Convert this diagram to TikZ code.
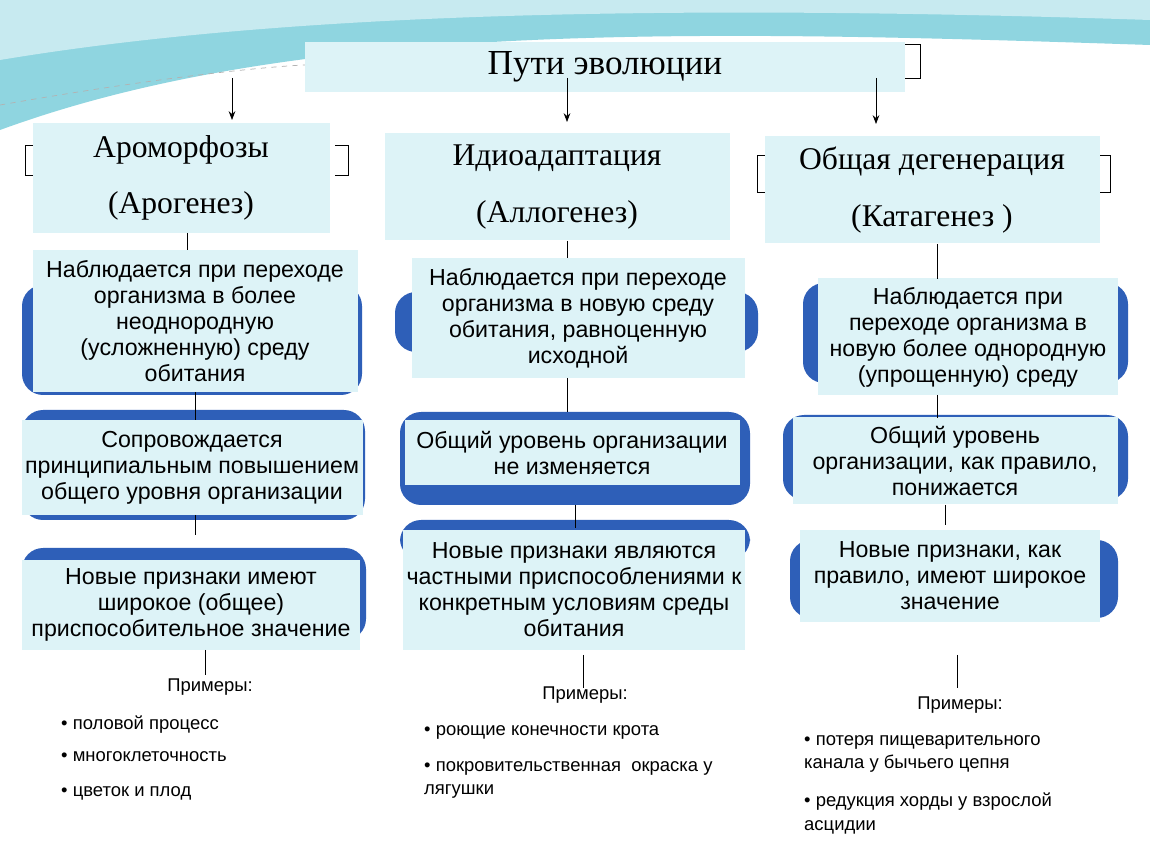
\documentclass[tikz,border=0pt]{standalone}
\usepackage{fontspec}
\setmainfont{Liberation Sans}
\newfontfamily\serifhead{Liberation Serif}
\usetikzlibrary{arrows.meta}
\definecolor{pale}{HTML}{DDF3F7}
\definecolor{band}{HTML}{2E5FB8}
\definecolor{sky}{HTML}{5FC3D3}
\tikzset{
 box/.style={fill=pale,inner sep=0pt,align=center,font=\fontsize{13.2}{14.8}\selectfont},
 head/.style={fill=pale,inner sep=0pt,align=center,font=\serifhead\fontsize{18}{32}\selectfont},
 wire/.style={black,thin},
 band/.style={fill=band,rounded corners=12pt},
 ex/.style={anchor=north west,align=left,font=\fontsize{10.5}{13.5}\selectfont}
}
\begin{document}
\begin{tikzpicture}[x=0.02cm,y=-0.02cm]
 \useasboundingbox (0,0) rectangle (1150,864);
 \fill[white] (0,0) rectangle (1150,864);
 % sky band at top
 \fill[sky!70] (0,0) -- (1150,0) -- (1150,45) .. controls (700,30) and (300,20) .. (0,130) -- cycle;
 \fill[sky!35] (0,0) -- (1150,0) -- (1150,20) .. controls (700,5) and (300,10) .. (0,60) -- cycle;
 \draw[gray!60,dashed] (0,105) .. controls (200,70) and (300,65) .. (305,65);

 % title
 \node[head,minimum width=600*0.02cm,minimum height=50*0.02cm,font=\serifhead\fontsize{20}{24}\selectfont] (root) at (605,67) {Пути эволюции};
 \draw[wire] (905,44) -- (920,44) -- (920,78) -- (905,78);

 % blue bands behind boxes
 \fill[band] (22,285) rectangle (362,395);
 \fill[band] (395,292) rectangle (758,352);
 \fill[band] (803,283) rectangle (1128,383);
 \fill[band] (22,410) rectangle (365,520);
 \fill[band] (400,412) rectangle (750,505);
 \fill[band] (783,415) rectangle (1128,500);
 \fill[band] (22,548) rectangle (366,640);
 \fill[band] (400,520) rectangle (750,560);
 \fill[band] (790,540) rectangle (1118,618);

 % headers
 \draw[wire] (35,145) -- (25,145) -- (25,175) -- (35,175);
 \draw[wire] (335,145) -- (348,145) -- (348,175) -- (335,175);
 \draw[wire] (767,155) -- (757,155) -- (757,192) -- (767,192);
 \draw[wire] (1100,155) -- (1110,155) -- (1110,192) -- (1100,192);
 \node[head,minimum width=297*0.02cm,minimum height=110*0.02cm] (arom) at (181,178) {Ароморфозы\\(Арогенез)};
 \node[head,minimum width=345*0.02cm,minimum height=107*0.02cm] (idio) at (557,187) {Идиоадаптация\\(Аллогенез)};
 \node[head,minimum width=335*0.02cm,minimum height=107*0.02cm] (degen) at (932,190) {Общая дегенерация\\(Катагенез )};

 \draw[wire,-{Stealth[length=5pt]}] (232,78) -- (232,120);
 \draw[wire,-{Stealth[length=5pt]}] (567,78) -- (567,122);
 \draw[wire,-{Stealth[length=5pt]}] (876,78) -- (876,124);

 % row 1
 \node[box,minimum width=325*0.02cm,minimum height=142*0.02cm] (aromA) at (195,321) {Наблюдается при переходе\\организма в более\\неоднородную\\(усложненную) среду\\обитания};
 \node[box,minimum width=333*0.02cm,minimum height=120*0.02cm] (idioA) at (578,318) {Наблюдается при переходе\\организма в новую среду\\обитания, равноценную\\исходной};
 \node[box,minimum width=300*0.02cm,minimum height=117*0.02cm] (degenA) at (968,337) {Наблюдается при\\переходе организма в\\новую более однородную\\(упрощенную) среду};

 % row 2
 \node[box,minimum width=341*0.02cm,minimum height=95*0.02cm] (aromB) at (192,468) {Сопровождается\\принципиальным повышением\\общего уровня организации};
 \node[box,minimum width=335*0.02cm,minimum height=65*0.02cm] (idioB) at (572,453) {Общий уровень организации\\не изменяется};
 \node[box,minimum width=325*0.02cm,minimum height=87*0.02cm] (degenB) at (955,461) {Общий уровень\\организации, как правило,\\понижается};

 % row 3
 \node[box,minimum width=338*0.02cm,minimum height=90*0.02cm] (aromC) at (191,605) {Новые признаки имеют\\широкое (общее)\\приспособительное значение};
 \node[box,minimum width=342*0.02cm,minimum height=120*0.02cm] (idioC) at (574,590) {Новые признаки являются\\частными приспособлениями к\\конкретным условиям среды\\обитания};
 \node[box,minimum width=300*0.02cm,minimum height=92*0.02cm] (degenC) at (950,576) {Новые признаки, как\\правило, имеют широкое\\значение};

 % examples
 \node[font=\fontsize{10.5}{12}\selectfont] (aromE) at (210,687) {Примеры:};
 \node[font=\fontsize{10.5}{12}\selectfont] (idioE) at (585,695) {Примеры:};
 \node[font=\fontsize{10.5}{12}\selectfont] (degenE) at (960,705) {Примеры:};
 \node[ex] (aromE1) at (55,710) {\textbullet\ половой процесс};
 \node[ex] (aromE2) at (55,745) {\textbullet\ многоклеточность};
 \node[ex] (aromE3) at (55,780) {\textbullet\ цветок и плод};
 \node[ex] (idioE1) at (418,719) {\textbullet\ роющие конечности крота};
 \node[ex] (idioE2) at (418,755) {\textbullet\ покровительственная\ \ окраска у\\лягушки};
 \node[ex] (degenE1) at (798,729) {\textbullet\ потеря пищеварительного\\канала у бычьего цепня};
 \node[ex] (degenE2) at (798,787) {\textbullet\ редукция хорды у взрослой\\асцидии};

 % connectors
 \draw[wire] (187,233) -- (187,250);
 \draw[wire] (567,241) -- (567,258);
 \draw[wire] (937,244) -- (937,279);
 \draw[wire] (195,392) -- (195,420);
 \draw[wire] (567,378) -- (567,412);
 \draw[wire] (937,395) -- (937,418);
 \draw[wire] (195,515) -- (195,535);
 \draw[wire] (575,505) -- (575,528);
 \draw[wire] (945,505) -- (945,525);
 \draw[wire] (205,650) -- (205,675);
 \draw[wire] (583,655) -- (583,688);
 \draw[wire] (957,655) -- (957,688);
\end{tikzpicture}
\end{document}
